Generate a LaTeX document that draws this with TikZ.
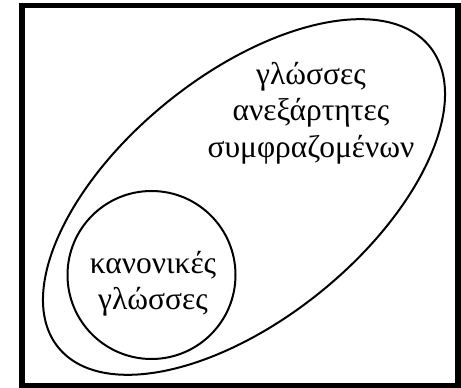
\documentclass[tikz,border=0pt]{standalone}
\usepackage{fontspec}
\setmainfont{Liberation Serif}
\tikzset{
  frame/.style={line width=5.5pt},
  setline/.style={line width=2pt},
  label/.style={align=center, inner sep=0pt, font=\fontsize{31.5}{36.5}\selectfont}
}
\begin{document}
\begin{tikzpicture}[x=1pt,y=1pt]
\useasboundingbox (0,0) rectangle (461,388);
\draw[frame] (22,2) rectangle (458,382.5);
\draw[setline, rotate around={39:(244,191)}] (244,191) ellipse [x radius=239, y radius=122];
\draw[setline] (151.5,113) circle [radius=84];
\node[label] (cfl) at (311,275) {γλώσσες\\ανεξάρτητες\\συμφραζομένων};
\node[label] (reg) at (153,104) {κανονικές\\γλώσσες};
\end{tikzpicture}
\end{document}
